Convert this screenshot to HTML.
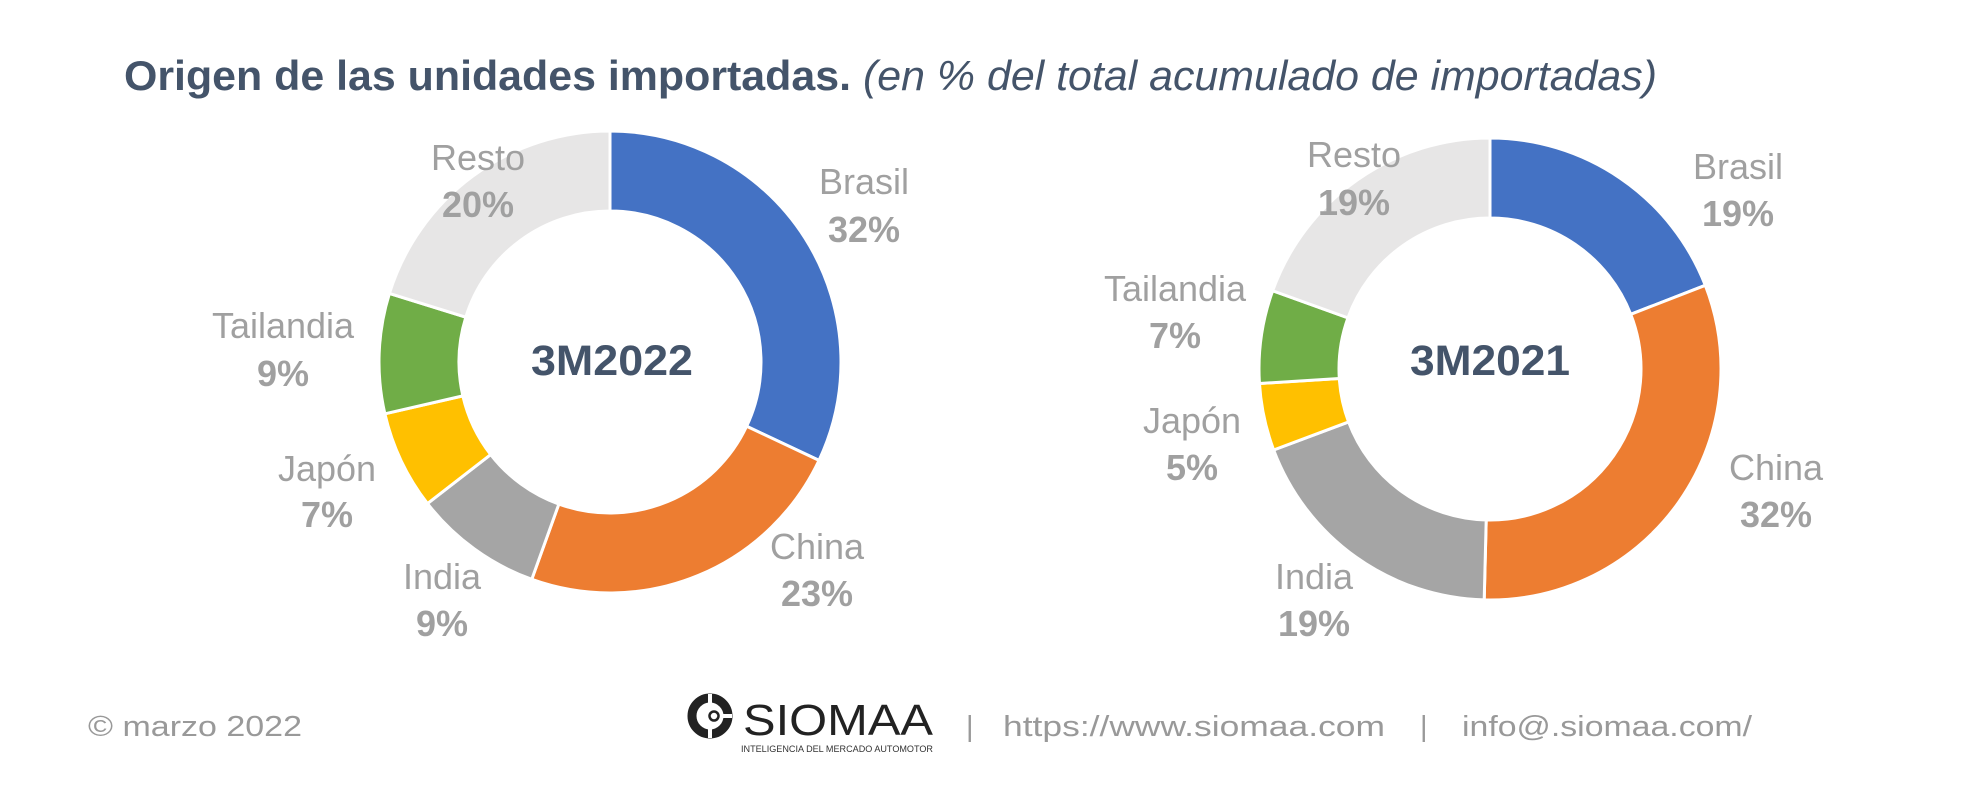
<!DOCTYPE html>
<html><head><meta charset="utf-8"><style>
html,body{margin:0;padding:0;background:#fff;}
svg{display:block;}
</style></head><body>
<svg width="1974" height="804" viewBox="0 0 1974 804" xmlns="http://www.w3.org/2000/svg" font-family="Liberation Sans, sans-serif">
<rect width="1974" height="804" fill="#fff"/>
<text x="124" y="90" font-size="42" fill="#44546a"><tspan font-weight="bold" textLength="727" lengthAdjust="spacingAndGlyphs">Origen de las unidades importadas.</tspan><tspan font-style="italic" dx="12" textLength="794" lengthAdjust="spacingAndGlyphs">(en % del total acumulado de importadas)</tspan></text>

<g id="d1"></g>
<g id="d2"></g>

<g font-size="36" fill="#a0a0a0" text-anchor="middle">
<text x="864" y="194">Brasil</text><text x="864" y="242" font-weight="bold">32%</text>
<text x="817" y="559">China</text><text x="817" y="606" font-weight="bold">23%</text>
<text x="442" y="589">India</text><text x="442" y="636" font-weight="bold">9%</text>
<text x="327" y="481">Japón</text><text x="327" y="527" font-weight="bold">7%</text>
<text x="283" y="338">Tailandia</text><text x="283" y="386" font-weight="bold">9%</text>
<text x="478" y="170">Resto</text><text x="478" y="217" font-weight="bold">20%</text>

<text x="1738" y="179">Brasil</text><text x="1738" y="226" font-weight="bold">19%</text>
<text x="1776" y="480">China</text><text x="1776" y="527" font-weight="bold">32%</text>
<text x="1314" y="589">India</text><text x="1314" y="636" font-weight="bold">19%</text>
<text x="1192" y="433">Japón</text><text x="1192" y="480" font-weight="bold">5%</text>
<text x="1175" y="301">Tailandia</text><text x="1175" y="348" font-weight="bold">7%</text>
<text x="1354" y="167">Resto</text><text x="1354" y="215" font-weight="bold">19%</text>
</g>
<g font-size="43" font-weight="bold" fill="#44546a" text-anchor="middle">
<text x="612" y="375" textLength="162" lengthAdjust="spacingAndGlyphs">3M2022</text>
<text x="1490" y="375" textLength="160" lengthAdjust="spacingAndGlyphs">3M2021</text>
</g>

<g font-size="29" fill="#999">
<text x="88" y="736" textLength="214" lengthAdjust="spacingAndGlyphs">© marzo 2022</text>
<text x="966" y="736">|</text>
<text x="1003" y="736" textLength="382" lengthAdjust="spacingAndGlyphs">https://www.siomaa.com</text>
<text x="1420" y="736">|</text>
<text x="1462" y="736" textLength="290" lengthAdjust="spacingAndGlyphs">info@.siomaa.com/</text>
</g>
<g>
<circle cx="710" cy="716" r="18" fill="none" stroke="#222" stroke-width="9"/>
<rect x="708" y="694" width="4" height="44" fill="#fff"/>
<rect x="712" y="714" width="20" height="4" fill="#fff"/>
<circle cx="714" cy="716" r="4.5" fill="#fff" stroke="#222" stroke-width="2.5"/>
<text x="743" y="735" font-size="44" fill="#222" textLength="190" lengthAdjust="spacingAndGlyphs">SIOMAA</text>
<text x="741" y="752" font-size="9" fill="#333" textLength="192" lengthAdjust="spacingAndGlyphs">INTELIGENCIA DEL MERCADO AUTOMOTOR</text>
</g>
</svg>
<script>
function donut(id,cx,cy,b){
 var cols=["#4472c4","#ed7d31","#a5a5a5","#ffc000","#70ad47","#e7e6e6"];
 var R=231,r=151,s="";
 function pt(rad,f){var a=f*2*Math.PI;return [cx+rad*Math.sin(a),cy-rad*Math.cos(a)];}
 for(var i=0;i<6;i++){
  var f0=b[i]/100,f1=b[i+1]/100,l=(f1-f0)>0.5?1:0;
  var p1=pt(R,f0),p2=pt(R,f1),p3=pt(r,f1),p4=pt(r,f0);
  s+='<path d="M'+p1+' A'+R+' '+R+' 0 '+l+' 1 '+p2+' L'+p3+' A'+r+' '+r+' 0 '+l+' 0 '+p4+'Z" fill="'+cols[i]+'" stroke="#fff" stroke-width="3" stroke-linejoin="round"/>';
 }
 document.getElementById(id).innerHTML=s;
}
donut("d1",610,362,[0,32,55.5,64.5,71.4,79.8,100]);
donut("d2",1490,369,[0,19.1,50.4,69.3,74.0,80.5,100]);
</script>
</body></html>
